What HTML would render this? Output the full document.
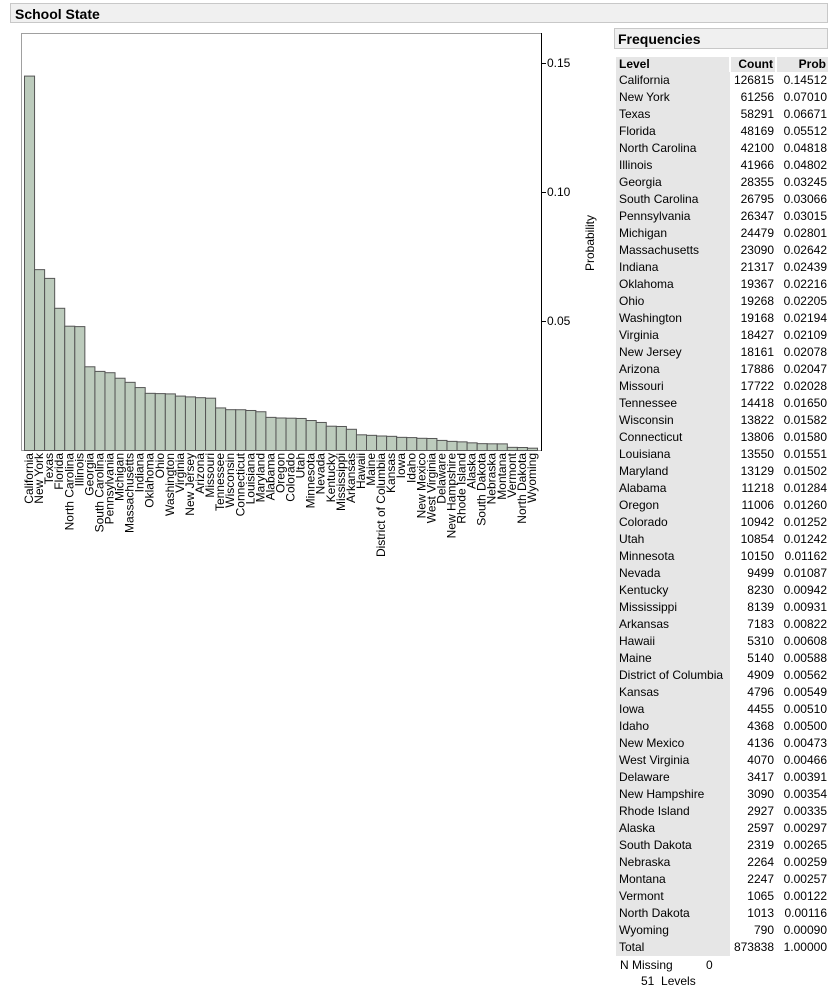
<!DOCTYPE html>
<html><head><meta charset="utf-8"><style>
body{margin:0;width:832px;height:993px;background:#fff;font-family:"Liberation Sans",sans-serif;position:relative;overflow:hidden}
.abs{position:absolute}
#title{left:10px;top:3px;width:818px;height:20px;background:#f0f0f0;border:1px solid #c8c8c8;font-weight:bold;font-size:14px;line-height:20px;padding-left:4px;box-sizing:border-box}
#freqhdr{left:614px;top:28px;width:214px;height:21px;background:#f0f0f0;border:1px solid #c8c8c8;font-weight:bold;font-size:14px;line-height:20px;padding-left:3px;box-sizing:border-box}
table{position:absolute;left:616px;top:57px;border-collapse:collapse;font-size:12px}
td{height:17px;padding:0 2px;white-space:nowrap;line-height:17px}
td.l{background:#e6e6e6;width:108px;padding-left:3px}
td.c{width:40px;text-align:right}
td.p{width:47px;text-align:right}
tr.h td{background:#e6e6e6;font-weight:bold;height:15px;line-height:15px;border-right:2px solid #fff}
</style></head><body>
<div id="title" class="abs">School State</div>
<svg id="chart" class="abs" style="left:0;top:0" width="612" height="560"></svg>
<div id="freqhdr" class="abs">Frequencies</div>
<table id="tbl"></table>
<div class="abs" style="left:620px;top:958px;font-size:12px">N Missing</div>
<div class="abs" style="left:706px;top:958px;font-size:12px">0</div>
<div class="abs" style="left:641px;top:974px;font-size:12px">51&nbsp; Levels</div>
<script>
const states=["California","New York","Texas","Florida","North Carolina","Illinois","Georgia","South Carolina","Pennsylvania","Michigan","Massachusetts","Indiana","Oklahoma","Ohio","Washington","Virginia","New Jersey","Arizona","Missouri","Tennessee","Wisconsin","Connecticut","Louisiana","Maryland","Alabama","Oregon","Colorado","Utah","Minnesota","Nevada","Kentucky","Mississippi","Arkansas","Hawaii","Maine","District of Columbia","Kansas","Iowa","Idaho","New Mexico","West Virginia","Delaware","New Hampshire","Rhode Island","Alaska","South Dakota","Nebraska","Montana","Vermont","North Dakota","Wyoming"];
const counts=[126815,61256,58291,48169,42100,41966,28355,26795,26347,24479,23090,21317,19367,19268,19168,18427,18161,17886,17722,14418,13822,13806,13550,13129,11218,11006,10942,10854,10150,9499,8230,8139,7183,5310,5140,4909,4796,4455,4368,4136,4070,3417,3090,2927,2597,2319,2264,2247,1065,1013,790];
const probs=[0.14512,0.07010,0.06671,0.05512,0.04818,0.04802,0.03245,0.03066,0.03015,0.02801,0.02642,0.02439,0.02216,0.02205,0.02194,0.02109,0.02078,0.02047,0.02028,0.01650,0.01582,0.01580,0.01551,0.01502,0.01284,0.01260,0.01252,0.01242,0.01162,0.01087,0.00942,0.00931,0.00822,0.00608,0.00588,0.00562,0.00549,0.00510,0.00500,0.00473,0.00466,0.00391,0.00354,0.00335,0.00297,0.00265,0.00259,0.00257,0.00122,0.00116,0.00090];
const yTicks=[0.05,0.10,0.15];
const NS="http://www.w3.org/2000/svg";
const svg=document.getElementById('chart');
const L=21,T=33,R=541,B=450,bx0=24,bx1=537;
const y=v=>B-v*2580;
const bw=(bx1-bx0)/states.length;
const x=i=>bx0+i*bw;
function mk(t,a){const e=document.createElementNS(NS,t);for(const k in a)e.setAttribute(k,a[k]);svg.appendChild(e);return e;}
let f=mk('rect',{x:L+.5,y:T+.5,width:R-L,height:B-T,fill:'#fff',stroke:'#a0a0a0'});


probs.forEach((p,i)=>{
 const r=mk('rect',{x:x(i)+.5,y:y(p)+.5,width:bw,height:B-y(p),fill:'#bccbbc',stroke:'#555'});
 
 
 const t=mk('text',{x:0,y:0,transform:`translate(${x(i)+bw/2+4},453) rotate(-90)`,'text-anchor':'end','font-size':'12','font-family':'Liberation Sans, sans-serif',fill:'#000'});
 t.textContent=states[i];
 
 
});
let ax=mk('line',{x1:R+.5,y1:T,x2:R+.5,y2:B+1,stroke:'#000'});


yTicks.forEach(v=>{
 mk('line',{x1:R,y1:y(v)+.5,x2:R+5,y2:y(v)+.5,stroke:'#000'});
 const t=mk('text',{x:R+6,y:y(v)+4,'font-size':'12','font-family':'Liberation Sans, sans-serif'});
 t.textContent=v.toFixed(2);
 
 
});
let yt=mk('text',{x:0,y:0,transform:'translate(594,243) rotate(-90)','text-anchor':'middle','font-size':'12','font-family':'Liberation Sans, sans-serif'});
yt.textContent='Probability';


const tbl=document.getElementById('tbl');
let h='<tr class="h"><td class="l">Level</td><td class="c">Count</td><td class="p">Prob</td></tr>';
states.forEach((s,i)=>{h+=`<tr><td class="l">${s}</td><td class="c">${counts[i]}</td><td class="p">${probs[i].toFixed(5)}</td></tr>`;});
h+='<tr><td class="l">Total</td><td class="c">873838</td><td class="p">1.00000</td></tr>';
tbl.innerHTML=h;
</script>
</body></html>
